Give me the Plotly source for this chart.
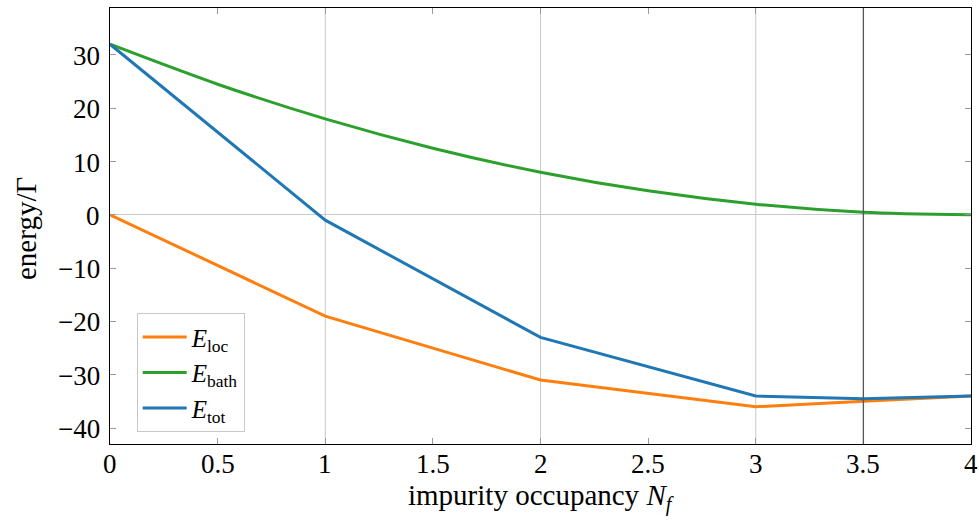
import plotly.graph_objects as go

x_loc = [0, 1, 2, 3, 3.5, 4]
E_loc = [0, -19, -31, -36, -35, -34]

x_bath = [0, 0.5, 1, 1.5, 2, 2.5, 3, 3.5, 4]
E_bath = [32, 24.5, 18, 12.5, 8, 4.5, 2, 0.5, 0]

x_tot = [0, 1, 2, 3, 3.5, 4]
E_tot = [32, -1, -23, -34, -34.5, -34]

x_ticks = [0, 0.5, 1, 1.5, 2, 2.5, 3, 3.5, 4]
x_tick_text = ["0", "0.5", "1", "1.5", "2", "2.5", "3", "3.5", "4"]
y_ticks = [-40, -30, -20, -10, 0, 10, 20, 30]
y_tick_text = ["−40", "−30", "−20", "−10", "0", "10", "20", "30"]
grid_x = [1, 2, 3]
marker_x = 3.5

x_title = "impurity occupancy <i>N</i><sub><i>f</i></sub>"
y_title = "energy/Γ"

FONT = "Liberation Serif"
TICK_SIZE = 27
TITLE_SIZE = 29

fig = go.Figure()
fig.add_trace(go.Scatter(x=x_loc, y=E_loc, mode="lines", name="<i>E</i><sub>loc</sub>",
                         line=dict(color="#ff7f0e", width=3)))
fig.add_trace(go.Scatter(x=x_bath, y=E_bath, mode="lines", name="<i>E</i><sub>bath</sub>",
                         line=dict(color="#2ca02c", width=3, shape="spline", smoothing=0.8)))
fig.add_trace(go.Scatter(x=x_tot, y=E_tot, mode="lines", name="<i>E</i><sub>tot</sub>",
                         line=dict(color="#1f77b4", width=3)))

for gx in grid_x:
    fig.add_vline(x=gx, line=dict(color="#c8c8c8", width=1), layer="below")
fig.add_vline(x=marker_x, line=dict(color="#555555", width=1.3))

annotations = []
for v, t in zip(x_ticks, x_tick_text):
    annotations.append(dict(x=v, y=0, xref="x", yref="paper", text=t, showarrow=False,
                            xanchor="center", yanchor="middle", yshift=-20,
                            font=dict(family=FONT, size=TICK_SIZE, color="black")))
for v, t in zip(y_ticks, y_tick_text):
    annotations.append(dict(x=0, y=v, xref="paper", yref="y", text=t, showarrow=False,
                            xanchor="right", yanchor="middle", xshift=-8, yshift=-1,
                            font=dict(family=FONT, size=TICK_SIZE, color="black")))
annotations.append(dict(x=0.5, y=0, xref="paper", yref="paper", text=x_title, showarrow=False,
                        xanchor="center", yanchor="middle", yshift=-53,
                        font=dict(family=FONT, size=TITLE_SIZE, color="black")))
annotations.append(dict(x=0, y=0.5, xref="paper", yref="paper", text=y_title, showarrow=False,
                        xanchor="center", yanchor="middle", xshift=-84, yshift=-3,
                        textangle=-90,
                        font=dict(family=FONT, size=TITLE_SIZE, color="black")))

fig.update_layout(
    template="none",
    width=979, height=522,
    margin=dict(l=110, r=8, t=8, b=78),
    paper_bgcolor="white", plot_bgcolor="white",
    font=dict(family=FONT, size=24, color="black"),
    showlegend=True,
    legend=dict(x=0.031, y=0.30, xanchor="left", yanchor="top",
                bordercolor="#c8c8c8", borderwidth=1, bgcolor="white",
                font=dict(family=FONT, size=25, color="black"), tracegroupgap=0,
                itemwidth=44),
    annotations=annotations,
)
fig.update_xaxes(range=[0, 4], tickmode="array", tickvals=x_ticks, showticklabels=False,
                 showgrid=False, zeroline=False, automargin=False,
                 showline=True, linecolor="black", linewidth=1.2, mirror="ticks",
                 ticks="inside", ticklen=6, tickcolor="#999999")
fig.update_yaxes(range=[-43, 38.8], tickmode="array", tickvals=y_ticks, showticklabels=False,
                 automargin=False,
                 showgrid=False, zeroline=True, zerolinecolor="#c8c8c8", zerolinewidth=1,
                 showline=True, linecolor="black", linewidth=1.2, mirror="ticks",
                 ticks="inside", ticklen=6, tickcolor="#999999")

fig.write_html("out.html")
